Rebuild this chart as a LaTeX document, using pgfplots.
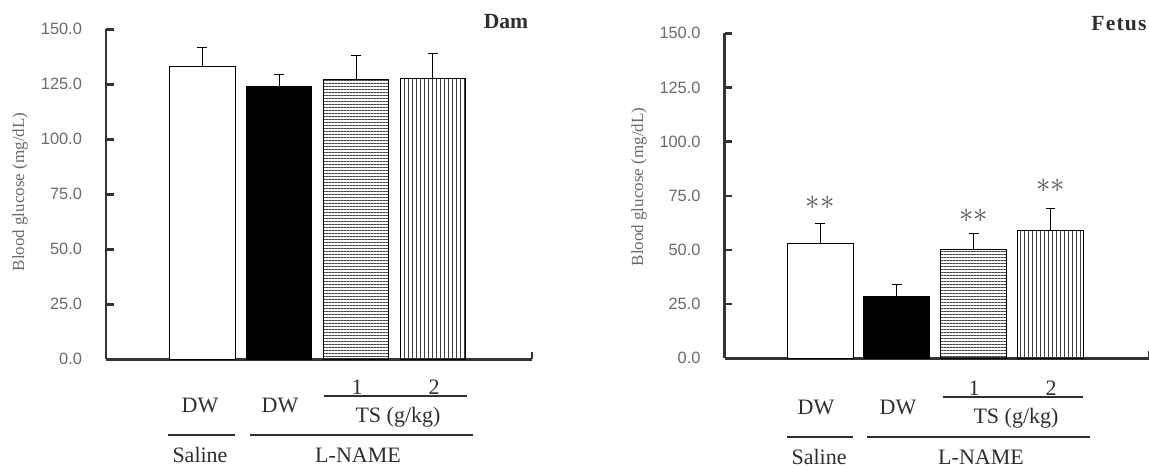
\documentclass[border=0pt]{standalone}
\usepackage{fontspec}
\setmainfont{Liberation Serif}
\newfontfamily\arial{Liberation Sans}
\usepackage{pgfplots}
\pgfplotsset{compat=1.18}
\usetikzlibrary{patterns.meta}
\definecolor{axc}{HTML}{333333}
\definecolor{tkc}{HTML}{6A6A6A}
\definecolor{lbc}{HTML}{2E2E2E}
\definecolor{stc}{HTML}{555555}
\pgfplotsset{
  gluc/.style={
    scale only axis, anchor=south west,
    ymin=0, ymax=150,
    axis x line*=bottom, axis y line*=left,
    axis line style={axc, line width=1.3pt},
    tick align=inside, major tick length=3.8pt,
    tick style={axc, line width=1.2pt},
    ytick={0,25,50,75,100,125,150},
    yticklabels={0.0,25.0,50.0,75.0,100.0,125.0,150.0},
    yticklabel style={font=\arial\fontsize{8.2}{9}\selectfont, text=tkc, xshift=-8.5pt},
    xticklabels={},
    clip=false,
    every axis plot/.append style={ybar, bar shift=0pt, draw=black, line width=0.5pt},
    error bars/y dir=plus, error bars/y explicit,
    error bars/error bar style={black, line width=0.5pt},
    error bars/error mark options={rotate=90, mark size=2.4pt, black, line width=0.5pt},
  },
  hl/.style={pattern={Lines[angle=0,distance=1.5pt,line width=0.45pt]}, pattern color=black!75},
  vl/.style={pattern={Lines[angle=90,distance=2pt,line width=0.5pt]}, pattern color=black!75},
}
\begin{document}
\begin{tikzpicture}[x=0.5pt,y=0.5pt]
\useasboundingbox (0,0) rectangle (1149,467);
% ---------------- Dam ----------------
\begin{axis}[gluc, at={(53pt,53.85pt)}, width=213pt, height=165pt,
  xmin=-0.247, xmax=5.286, xtick={5.286}, bar width=0.857]
\addplot[fill=white] coordinates {(1,133.0) +- (0,8.8)};
\addplot[fill=black] coordinates {(2,124.2) +- (0,5.2)};
\addplot[hl] coordinates {(3,127.4) +- (0,10.9)};
\addplot[vl] coordinates {(4,127.7) +- (0,11.2)};
\end{axis}
% ---------------- Fetus ----------------
\begin{axis}[gluc, at={(362.3pt,54.35pt)}, width=212.2pt, height=162.5pt,
  xmin=-0.242, xmax=5.28, xtick={5.28}, bar width=0.86]
\addplot[fill=white] coordinates {(1,53.1) +- (0,8.9)};
\addplot[fill=black] coordinates {(2,28.5) +- (0,5.7)};
\addplot[hl] coordinates {(3,50.3) +- (0,7.4)};
\addplot[vl] coordinates {(4,59.2) +- (0,10.0)};
\node[text=stc, font=\fontsize{15}{15}\selectfont] at (axis cs:1,72.0) {$\ast\ast$};
\node[text=stc, font=\fontsize{15}{15}\selectfont] at (axis cs:3,66.0) {$\ast\ast$};
\node[text=stc, font=\fontsize{15}{15}\selectfont] at (axis cs:4,79.8) {$\ast\ast$};
\end{axis}
% ---------------- annotations (px coordinates, y up) ----------------
\tikzset{lab/.style={text=lbc, font=\fontsize{11}{12}\selectfont, inner sep=0pt},
         ylab/.style={text=tkc, font=\fontsize{8.5}{9}\selectfont, rotate=90, inner sep=0pt},
         ttl/.style={text=lbc, font=\bfseries\fontsize{10.8}{11}\selectfont, inner sep=0pt},
         rl/.style={draw=lbc, line width=0.6pt}}
% Dam
\node[ylab] at (20,275) {Blood glucose (mg/dL)};
\node[ttl] at (506,445) {Dam};
\node[lab] at (357,80) {1};
\node[lab] at (434,80) {2};
\draw[rl] (324,71) -- (467,71);
\node[lab] at (200,62) {DW};
\node[lab] at (280,62) {DW};
\node[lab] at (398,50) {TS (g/kg)};
\draw[rl] (168,32) -- (235,32);
\draw[rl] (250,32) -- (473,32);
\node[lab] at (200,12) {Saline};
\node[lab] at (358,12) {L-NAME};
% Fetus
\node[ylab] at (639,280) {Blood glucose (mg/dL)};
\node[ttl] at (1119,443) {F\kern0.6pt e\kern0.6pt t\kern0.6pt u\kern0.6pt s};
\node[lab] at (974,79) {1};
\node[lab] at (1051,79) {2};
\draw[rl] (943,70) -- (1083,70);
\node[lab] at (816,60) {DW};
\node[lab] at (898,60) {DW};
\node[lab] at (1016,49) {TS (g/kg)};
\draw[rl] (787,30) -- (853,30);
\draw[rl] (867,30) -- (1090,30);
\node[lab] at (819,10) {Saline};
\node[lab] at (981,10) {L-NAME};
\end{tikzpicture}
\end{document}
